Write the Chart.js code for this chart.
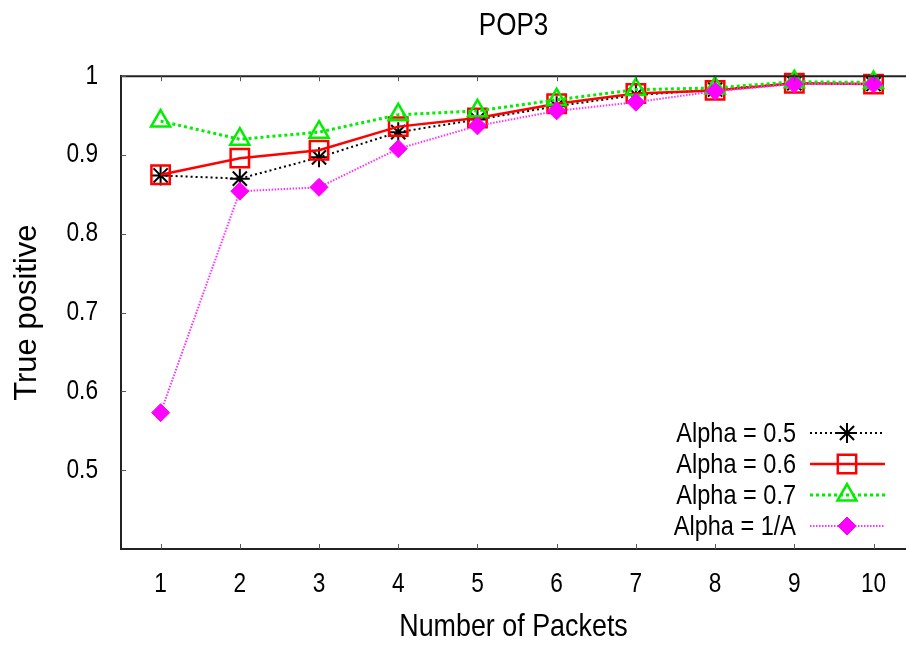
<!DOCTYPE html>
<html>
<head>
<meta charset="utf-8">
<title>POP3</title>
<script src="https://cdn.jsdelivr.net/npm/chart.js@4/dist/chart.umd.min.js"></script>
<style>
  html, body { margin: 0; padding: 0; background: #fff; }
  #wrap { width: 906px; height: 646px; }
</style>
</head>
<body>
<div id="wrap"><canvas id="chart" width="906" height="646"></canvas></div>
<script>
// data
const packets = [1, 2, 3, 4, 5, 6, 7, 8, 9, 10];
const yTicks = [0.5, 0.6, 0.7, 0.8, 0.9, 1];
const alpha05 = [0.874, 0.870, 0.897, 0.929, 0.945, 0.962, 0.976, 0.983, 0.991, 0.990];
const alpha06 = [0.875, 0.896, 0.906, 0.936, 0.947, 0.965, 0.978, 0.982, 0.991, 0.990];
const alpha07 = [0.943, 0.920, 0.929, 0.951, 0.956, 0.970, 0.983, 0.985, 0.993, 0.992];
const alpha1A = [0.573, 0.854, 0.859, 0.908, 0.937, 0.956, 0.967, 0.981, 0.990, 0.990];

const FONT = "'Liberation Sans', Arial, sans-serif";
const NARROW_X = 0.84; // no narrow face installed, squeeze horizontal text instead

const toPoints = (ys) => packets.map((x, i) => ({x, y: ys[i]}));

const datasets = [
  { label:"Alpha = 0.5", data: toPoints(alpha05), borderColor:"#000", borderWidth:2, borderDash:[2,3],
    pointStyle:"star", pointRadius:10, pointBorderWidth:2, pointBorderColor:"#000", pointBackgroundColor:"#000", order:4 },
  { label:"Alpha = 0.6", data: toPoints(alpha06), borderColor:"#ff0000", borderWidth:2.5,
    pointStyle:"rect", pointRadius:13, pointBorderWidth:2.5, pointBorderColor:"#ff0000", pointBackgroundColor:"rgba(0,0,0,0)", order:3 },
  { label:"Alpha = 0.7", data: toPoints(alpha07), borderColor:"#00ee00", borderWidth:3, borderDash:[3,3],
    pointStyle:"triangle", pointRadius:11, pointBorderWidth:2.5, pointBorderColor:"#00ee00", pointBackgroundColor:"rgba(0,0,0,0)", order:2 },
  { label:"Alpha = 1/A", data: toPoints(alpha1A), borderColor:"#ff33ff", borderWidth:2, borderDash:[1.5,1.5],
    pointStyle:"rectRot", pointRadius:9, pointBorderWidth:1, pointBorderColor:"#ff00ff", pointBackgroundColor:"#ff00ff", order:1 },
].map(d => ({...d, tension:0, clip:false, fill:false}));

// condensed look for horizontal text (the rotated axis title stays regular)
const narrowPlugin = {
  id: "narrow",
  beforeInit(chart){
    const ctx = chart.ctx;
    const orig = ctx.fillText.bind(ctx);
    ctx.fillText = function(text, x, y, maxWidth){
      const m = this.getTransform();
      if (m.b !== 0 || m.c !== 0) return orig(text, x, y, maxWidth);
      this.save();
      this.translate(x, y);
      this.scale(NARROW_X, 1);
      orig(text, 0, 0, maxWidth);
      this.restore();
    };
  }
};

// gnuplot style frame: inward ticks, top line running to the edge
const framePlugin = {
  id: "frame",
  afterDraw(chart){
    const {ctx, chartArea:a, scales:{x, y}} = chart;
    ctx.save();
    ctx.strokeStyle = "#222";
    ctx.lineWidth = 2;
    ctx.beginPath();
    ctx.moveTo(a.left, a.top);
    ctx.lineTo(chart.width, a.top);
    ctx.stroke();
    ctx.strokeStyle = "#555";
    ctx.lineWidth = 1;
    ctx.beginPath();
    packets.forEach(v => {
      const px = Math.round(x.getPixelForValue(v)) + 0.5;
      ctx.moveTo(px, a.bottom); ctx.lineTo(px, a.bottom - 5);
      ctx.moveTo(px, a.top); ctx.lineTo(px, a.top + 5);
    });
    yTicks.forEach(v => {
      const py = Math.round(y.getPixelForValue(v)) + 0.5;
      ctx.moveTo(a.left, py); ctx.lineTo(a.left + 5, py);
    });
    ctx.stroke();
    ctx.restore();
  }
};

// key inside the plot, bottom right
const keyPlugin = {
  id: "key",
  afterDraw(chart){
    const ctx = chart.ctx;
    ctx.save();
    ctx.font = "28px " + FONT;
    ctx.textAlign = "right";
    ctx.textBaseline = "middle";
    chart.data.datasets.forEach((d, i) => {
      const yy = 433 + i * 31;
      ctx.fillStyle = "#000";
      ctx.fillText(d.label, 796, yy + 1);
      ctx.strokeStyle = d.borderColor;
      ctx.lineWidth = d.borderWidth;
      ctx.setLineDash(d.borderDash || []);
      ctx.beginPath();
      ctx.moveTo(810, yy); ctx.lineTo(885, yy);
      ctx.stroke();
      ctx.setLineDash([]);
      ctx.strokeStyle = d.pointBorderColor;
      ctx.fillStyle = d.pointBackgroundColor;
      ctx.lineWidth = d.pointBorderWidth;
      Chart.helpers.drawPoint(ctx, {pointStyle: d.pointStyle, radius: d.pointRadius, rotation: 0, borderWidth: d.pointBorderWidth}, 847, yy);
    });
    ctx.restore();
  }
};

new Chart(document.getElementById("chart"), {
  type: "line",
  data: { datasets },
  plugins: [narrowPlugin, framePlugin, keyPlugin],
  options: {
    responsive: false,
    animation: false,
    devicePixelRatio: 1,
    layout: { padding: 0, autoPadding: false },
    plugins: {
      legend: { display:false },
      tooltip: { enabled:false },
      title: {
        display: true, text: "POP3", fullSize: false,
        font: { family: FONT, size: 31, weight: "normal" },
        color: "#000",
        padding: { top: 8, bottom: 31 }
      }
    },
    scales: {
      x: {
        type: "linear", min: 0.5, max: 10.41,
        afterBuildTicks: s => { s.ticks = packets.map(v => ({value: v})); },
        afterFit: s => { s.height = 97; },
        grid: { display: false },
        border: { display: true, color: "#222", width: 2 },
        ticks: { font: { family: FONT, size: 27 }, color: "#000", padding: 11, maxRotation: 0, autoSkip: false },
        title: { display: true, text: "Number of Packets", font: { family: FONT, size: 32 }, color: "#000", padding: 0 }
      },
      y: {
        type: "linear", min: 0.4, max: 1,
        afterBuildTicks: s => { s.ticks = yTicks.map(v => ({value: v})); },
        afterFit: s => { s.width = 121; },
        grid: { display: false },
        border: { display: true, color: "#222", width: 2 },
        ticks: { font: { family: FONT, size: 27 }, color: "#000", padding: 15, callback: v => String(v) },
        title: { display: true, text: "True positive", font: { family: FONT, size: 31 }, color: "#000", padding: { top: 9, bottom: 0 } }
      }
    }
  }
});
</script>
</body>
</html>
